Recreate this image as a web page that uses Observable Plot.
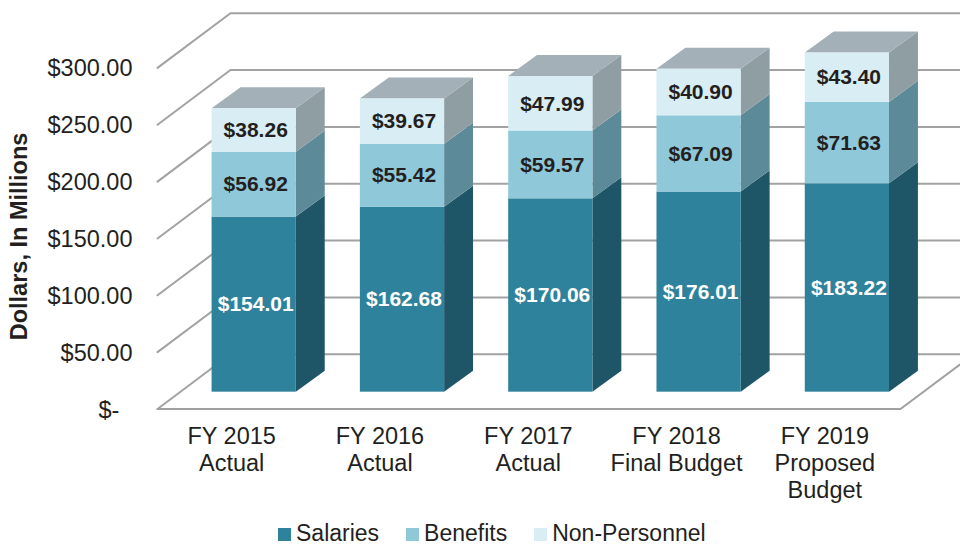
<!DOCTYPE html>
<html>
<head>
<meta charset="utf-8">
<script src="https://cdn.jsdelivr.net/npm/d3@7"></script>
<script src="https://cdn.jsdelivr.net/npm/@observablehq/plot@0.6"></script>
<style>
html,body{margin:0;padding:0;background:#fff;overflow:hidden;width:960px;height:546px}
svg{display:block}
#legend{position:absolute;left:278px;top:523px;height:20px;line-height:20px;display:flex;align-items:center;font-family:"Liberation Sans",Arial,sans-serif;font-size:23px;color:#231f20;white-space:nowrap}
#legend span.s{width:13px;height:13px;display:inline-block;margin-right:5px;position:relative;top:1px}
#legend span.t{margin-right:27px}
</style>
</head>
<body>
<div id="chart"></div>
<div id="legend"></div>
<script>
const categories = ["FY 2015\nActual","FY 2016\nActual","FY 2017\nActual","FY 2018\nFinal Budget","FY 2019\nProposed\nBudget"];
const salaries = [154.01,162.68,170.06,176.01,183.22];
const benefits = [56.92,55.42,59.57,67.09,71.63];
const nonPersonnel = [38.26,39.67,47.99,40.90,43.40];
const seriesNames = ["Salaries","Benefits","Non-Personnel"];
const frontColors = ["#2f829b","#8fc8d9","#d8edf4"];
const sideColors = ["#1f5667","#5c8a98","#8f9ea3"];
const labelColors = ["#ffffff","#231f20","#231f20"];
const topColor = "#a3b0b7";
const yTicks = [0,50,100,150,200,250,300];
const axisTitle = "Dollars, In Millions";

// Oblique projection, expressed in data units
const wallDx = 0.492, wallDy = 48.1;
const barDx = 0.195, barDy = 18.5;
const barLeft = 0.368, barWidth = 0.568, barBase = 14.8;
const rightEnd = 5.5, floorEnd = 5.01;

const values = [salaries, benefits, nonPersonnel];
const segments = [];
categories.forEach((c, i) => {
  let cum = barBase;
  values.forEach((v, s) => {
    segments.push({i, s, x1: i + barLeft, x2: i + barLeft + barWidth, y1: cum, y2: cum + v[i], v: v[i]});
    cum += v[i];
  });
});
const tops = segments.filter(d => d.s === 2);

const gridRows = yTicks.flatMap(v => [
  {t: v, x: 0, y: v},
  {t: v, x: wallDx, y: v + wallDy},
  {t: v, x: rightEnd, y: v + wallDy}
]);
const floorRows = [{x: 0, y: 0}, {x: floorEnd, y: 0}, {x: floorEnd + wallDx, y: wallDy}];

const sideRows = s => segments.filter(d => d.s === s).flatMap(d => [
  {i: d.i, x: d.x2, y1: d.y1, y2: d.y2},
  {i: d.i, x: d.x2 + barDx, y1: d.y1 + barDy, y2: d.y2 + barDy}
]);
const topRows = tops.flatMap(d => [
  {i: d.i, y: d.y2, x1: d.x1, x2: d.x2},
  {i: d.i, y: d.y2 + barDy, x1: d.x1 + barDx, x2: d.x2 + barDx}
]);

const chart = Plot.plot({
  width: 960,
  height: 520,
  marginLeft: 157,
  marginRight: 61.5,
  marginTop: 67.4,
  marginBottom: 111.5,
  style: {fontFamily: '"Liberation Sans", Arial, sans-serif', background: "#fff", color: "#231f20"},
  x: {type: "linear", domain: [0, 5]},
  y: {type: "linear", domain: [0, 300]},
  marks: [
    Plot.line(gridRows, {x: "x", y: "y", z: "t", stroke: "#a2a2a2", strokeWidth: 2}),
    Plot.line(floorRows, {x: "x", y: "y", stroke: "#a0a0a0", strokeWidth: 2}),
    ...seriesNames.map((n, s) =>
      Plot.areaY(sideRows(s), {x: "x", y1: "y1", y2: "y2", z: "i", fill: sideColors[s], curve: "linear"})
    ),
    Plot.areaX(topRows, {y: "y", x1: "x1", x2: "x2", z: "i", fill: topColor, curve: "linear"}),
    ...seriesNames.map((n, s) =>
      Plot.rect(segments.filter(d => d.s === s), {x1: "x1", x2: "x2", y1: "y1", y2: "y2", fill: frontColors[s]})
    ),
    ...seriesNames.map((n, s) =>
      Plot.text(segments.filter(d => d.s === s), {
        x: d => (d.x1 + d.x2) / 2,
        y: d => (d.y1 + d.y2) / 2,
        text: d => "$" + d.v.toFixed(2),
        fill: labelColors[s],
        fontSize: 21,
        fontWeight: "bold",
        dx: 1.5,
        dy: 0
      })
    ),
    Plot.axisY({
      ticks: yTicks,
      tickSize: 0,
      tickPadding: 25,
      fontSize: 23.5,
      dy: 1,
      label: null,
      tickFormat: v => v === 0 ? "$-\u00a0\u00a0" : "$" + v.toFixed(2)
    }),
    Plot.axisX({
      ticks: categories.map((c, i) => i + 0.5),
      tickSize: 0,
      tickPadding: 16,
      fontSize: 23.5,
      lineHeight: 1.15,
      label: null,
      tickFormat: v => categories[Math.floor(v)]
    }),
    Plot.text([axisTitle], {
      text: d => d,
      frameAnchor: "left",
      textAnchor: "middle",
      dx: -138,
      dy: -2,
      rotate: -90,
      fontSize: 23.5,
      fontWeight: "bold"
    })
  ]
});
document.getElementById("chart").appendChild(chart);

const legend = document.getElementById("legend");
seriesNames.forEach((n, s) => {
  const sw = document.createElement("span");
  sw.className = "s";
  sw.style.background = frontColors[s];
  const tx = document.createElement("span");
  tx.className = "t";
  tx.textContent = n;
  legend.append(sw, tx);
});
</script>
</body>
</html>
